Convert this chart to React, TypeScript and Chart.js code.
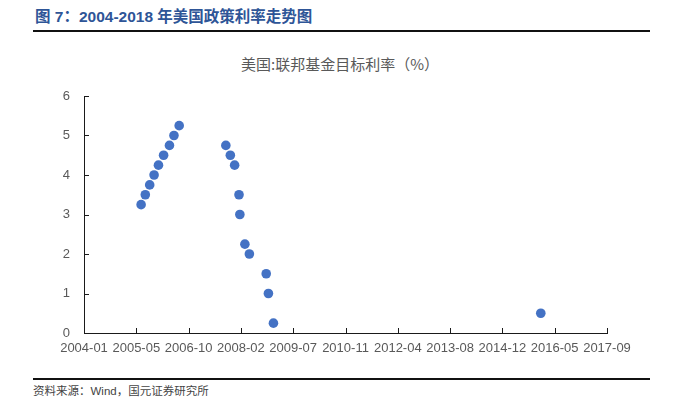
import React, { useEffect, useRef } from "react";
import { Chart, registerables } from "chart.js";

Chart.register(...registerables);

// Fed funds target rate change dates and levels (%)
const rateDates = [
  "2005-06-30", "2005-08-09", "2005-09-20", "2005-11-01", "2005-12-13",
  "2006-01-31", "2006-03-28", "2006-05-10", "2006-06-29",
  "2007-09-18", "2007-10-31", "2007-12-11", "2008-01-22", "2008-01-30",
  "2008-03-18", "2008-04-30", "2008-10-08", "2008-10-29", "2008-12-16",
  "2015-12-16",
];
const rateValues = [
  3.25, 3.5, 3.75, 4.0, 4.25,
  4.5, 4.75, 5.0, 5.25,
  4.75, 4.5, 4.25, 3.5, 3.0,
  2.25, 2.0, 1.5, 1.0, 0.25,
  0.5,
];
const xTickLabels = [
  "2004-01", "2005-05", "2006-10", "2008-02", "2009-07", "2010-11",
  "2012-04", "2013-08", "2014-12", "2016-05", "2017-09",
];
const yTicks = [0, 1, 2, 3, 4, 5, 6];

const AXIS_START = Date.UTC(2004, 0, 1);
const DAY = 86400000;
const dayIndex = (s: string) => {
  const [y, m, d] = s.split("-").map(Number);
  return (Date.UTC(y, m - 1, d) - AXIS_START) / DAY;
};

const innerTicks = {
  id: "innerTicks",
  afterDraw(chart: any) {
    const { ctx, chartArea, scales } = chart;
    ctx.save();
    ctx.strokeStyle = "#1a1a1a";
    ctx.lineWidth = 1;
    ctx.beginPath();
    scales.x.ticks.forEach((t: any) => {
      const px = Math.round(scales.x.getPixelForValue(t.value)) + 0.5;
      ctx.moveTo(px, chartArea.bottom);
      ctx.lineTo(px, chartArea.bottom - 5);
    });
    scales.y.ticks.forEach((t: any) => {
      const py = Math.round(scales.y.getPixelForValue(t.value)) + 0.5;
      ctx.moveTo(chartArea.left, py);
      ctx.lineTo(chartArea.left + 5, py);
    });
    ctx.stroke();
    ctx.restore();
  },
};

export default function App() {
  const ref = useRef<HTMLCanvasElement>(null);
  useEffect(() => {
    if (!ref.current) return;
    const chart = new Chart(ref.current, {
      type: "scatter",
      data: {
        datasets: [
          {
            data: rateDates.map((d, i) => ({ x: dayIndex(d), y: rateValues[i] })),
            backgroundColor: "#4472C4",
            borderColor: "#4472C4",
            pointRadius: 4.8,
            pointBorderWidth: 0,
          },
        ],
      },
      options: {
        responsive: false,
        animation: false,
        layout: { padding: { top: 20, right: 33, left: 0, bottom: 0 } },
        plugins: { legend: { display: false }, tooltip: { enabled: false }, title: { display: false } },
        scales: {
          x: {
            type: "linear",
            min: 0,
            max: 5000,
            grid: { display: false },
            border: { display: true, color: "#1a1a1a", width: 1 },
            afterFit: (s: any) => { s.height = 30; },
            afterBuildTicks: (s: any) => {
              s.ticks = xTickLabels.map((_, i) => ({ value: i * 500 }));
            },
            ticks: {
              autoSkip: false,
              maxRotation: 0,
              padding: 0,
              color: "#595959",
              font: { family: "'Liberation Sans', Arial, sans-serif", size: 13 },
              callback: (_v: any, i: number) => xTickLabels[i],
            },
          },
          y: {
            min: 0,
            max: 6,
            grid: { display: false },
            border: { display: true, color: "#1a1a1a", width: 1 },
            afterFit: (s: any) => { s.width = 84; },
            afterBuildTicks: (s: any) => {
              s.ticks = yTicks.map((v) => ({ value: v }));
            },
            ticks: {
              padding: 6,
              color: "#595959",
              font: { family: "'Liberation Sans', Arial, sans-serif", size: 13 },
              callback: (v: any) => String(v),
            },
          },
        },
      },
      plugins: [innerTicks],
    });
    return () => chart.destroy();
  }, []);

  return (
    <div style={{ position: "absolute", left: 0, top: 0, width: 680, height: 398, background: "#fff", overflow: "hidden" }}>
      <div style={{ position: "absolute", left: 35, top: 7, fontFamily: "'Liberation Sans', 'Noto Sans CJK SC', sans-serif", fontWeight: "bold", fontSize: 15.5, color: "#2E5597", whiteSpace: "nowrap", lineHeight: "20px" }}>
        图 7：2004-2018 年美国政策利率走势图
      </div>
      <div style={{ position: "absolute", left: 33, top: 30, width: 617, height: 2, background: "#111" }} />
      <div style={{ position: "absolute", left: 0, top: 54, width: 680, textAlign: "center", fontFamily: "'Noto Sans CJK SC', sans-serif", fontSize: 15, color: "#595959", lineHeight: "20px" }}>
        美国:联邦基金目标利率（%）
      </div>
      <canvas ref={ref} width={640} height={287} style={{ position: "absolute", left: 0, top: 76, width: 640, height: 287 }} />
      <div style={{ position: "absolute", left: 33, top: 378, width: 617, height: 1.5, background: "#111" }} />
      <div style={{ position: "absolute", left: 33, top: 384, fontFamily: "'Liberation Sans', 'Noto Sans CJK SC', sans-serif", fontSize: 11.5, color: "#444", whiteSpace: "nowrap", lineHeight: "14px" }}>
        资料来源：Wind，国元证券研究所
      </div>
    </div>
  );
}
